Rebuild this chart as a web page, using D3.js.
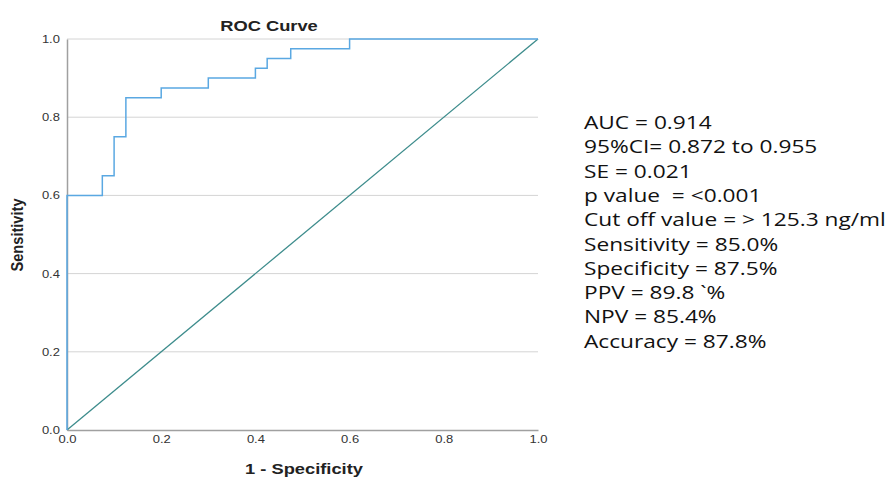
<!DOCTYPE html>
<html>
<head>
<meta charset="utf-8">
<script src="https://cdn.jsdelivr.net/npm/d3@7"></script>
<style>
  body { margin: 0; background: #fff; }
  svg { display: block; }
  text { white-space: pre; }
</style>
</head>
<body>
<svg id="chart" width="887" height="478"></svg>
<script>
// ROC curve points (1 - specificity, sensitivity)
const fpr = [0, 0, 0.075, 0.075, 0.1, 0.1, 0.125, 0.125, 0.2, 0.2, 0.3, 0.3, 0.4, 0.4, 0.425, 0.425, 0.475, 0.475, 0.6, 0.6, 1.0];
const tpr = [0, 0.6, 0.6, 0.65, 0.65, 0.75, 0.75, 0.85, 0.85, 0.875, 0.875, 0.9, 0.9, 0.925, 0.925, 0.95, 0.95, 0.975, 0.975, 1.0, 1.0];
const refX = [0, 1];
const refY = [0, 1];
const ticks = [0, 0.2, 0.4, 0.6, 0.8, 1.0];
const stats = [
  'AUC = 0.914',
  '95%CI= 0.872 to 0.955',
  'SE = 0.021',
  'p value  = <0.001',
  'Cut off value = > 125.3 ng/ml',
  'Sensitivity = 85.0%',
  'Specificity = 87.5%',
  'PPV = 89.8 `%',
  'NPV = 85.4%',
  'Accuracy = 87.8%'
];

const svg = d3.select('#chart');
const plot = {left: 67, right: 538, top: 39, bottom: 430};
// the source picture is stretched sideways, so text is too
const stretch = 1.22;

const x = d3.scaleLinear().domain([0, 1]).range([plot.left, plot.right]);
const y = d3.scaleLinear().domain([0, 1]).range([plot.bottom, plot.top]);

// horizontal grid lines
svg.append('g')
  .selectAll('line')
  .data(ticks.slice(1))
  .enter().append('line')
  .attr('x1', plot.left).attr('x2', plot.right)
  .attr('y1', d => y(d)).attr('y2', d => y(d))
  .attr('stroke', '#d4d4d4').attr('stroke-width', 1);

// axes
const xAxis = svg.append('g')
  .attr('transform', `translate(0,${plot.bottom})`)
  .call(d3.axisBottom(x).tickValues(ticks).tickFormat(d3.format('.1f')).tickSize(0).tickPadding(5));
const yAxis = svg.append('g')
  .attr('transform', `translate(${plot.left},0)`)
  .call(d3.axisLeft(y).tickValues(ticks).tickFormat(d3.format('.1f')).tickSize(0).tickPadding(6));

[xAxis, yAxis].forEach(a => {
  a.select('.domain').attr('stroke', '#a0a0a0').attr('stroke-width', 1.5);
  a.selectAll('text')
    .attr('font-family', 'Liberation Sans, Arial, sans-serif')
    .attr('font-size', 11)
    .attr('fill', '#333')
    .attr('transform', 'scale(1.18,1)');
});

// reference diagonal
svg.append('path')
  .datum(refX.map((d, i) => [d, refY[i]]))
  .attr('d', d3.line().x(d => x(d[0])).y(d => y(d[1])))
  .attr('fill', 'none')
  .attr('stroke', '#3d8c8c')
  .attr('stroke-width', 1.3);

// roc curve
svg.append('path')
  .datum(fpr.map((d, i) => [d, tpr[i]]))
  .attr('d', d3.line().x(d => x(d[0])).y(d => y(d[1])))
  .attr('fill', 'none')
  .attr('stroke', '#5aa8e2')
  .attr('stroke-width', 1.5);

// titles
svg.append('text')
  .attr('transform', `translate(269,31) scale(${stretch},1)`)
  .attr('text-anchor', 'middle')
  .attr('font-family', 'Liberation Sans, Arial, sans-serif')
  .attr('font-weight', 'bold')
  .attr('font-size', 15)
  .attr('fill', '#222')
  .text('ROC Curve');

svg.append('text')
  .attr('transform', `translate(304,474) scale(${stretch},1)`)
  .attr('text-anchor', 'middle')
  .attr('font-family', 'Liberation Sans, Arial, sans-serif')
  .attr('font-weight', 'bold')
  .attr('font-size', 15)
  .attr('fill', '#222')
  .text('1 - Specificity');

svg.append('text')
  .attr('transform', `translate(23,235) scale(${stretch},1) rotate(-90)`)
  .attr('text-anchor', 'middle')
  .attr('font-family', 'Liberation Sans, Arial, sans-serif')
  .attr('font-weight', 'bold')
  .attr('font-size', 14)
  .attr('textLength', 73)
  .attr('lengthAdjust', 'spacingAndGlyphs')
  .attr('fill', '#222')
  .text('Sensitivity');

// statistics block
svg.append('g')
  .selectAll('text')
  .data(stats)
  .enter().append('text')
  .attr('transform', (d, i) => `translate(584,${129 + i * 24.3}) scale(${stretch},1)`)
  .attr('font-family', 'Open Sans, sans-serif')
  .attr('font-size', 18.6)
  .attr('fill', '#111')
  .text(d => d);
</script>
</body>
</html>
